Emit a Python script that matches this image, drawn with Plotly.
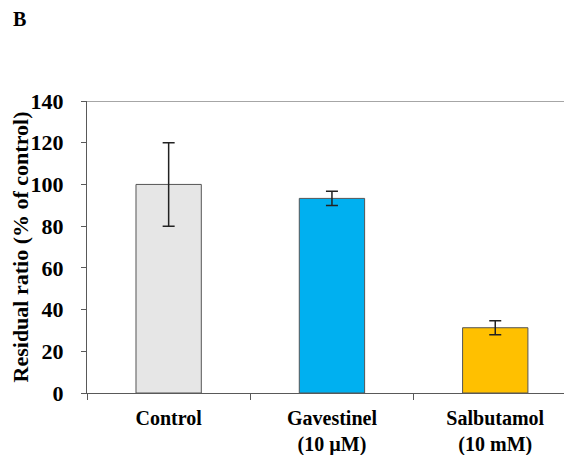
import plotly.graph_objects as go

categories = ["Control", "Gavestinel<br>(10 µM)", "Salbutamol<br>(10 mM)"]
values = [100, 93.3, 31.3]
errors = [20, 3.4, 3.4]
colors = ["#E6E6E6", "#00B0F0", "#FFC000"]
y_ticks = [0, 20, 40, 60, 80, 100, 120, 140]

FONT = "Liberation Serif"

fig = go.Figure()
fig.add_trace(go.Bar(
    x=categories, y=values,
    marker=dict(color=colors, line=dict(color="#555555", width=1)),
    width=0.4,
    error_y=dict(type="data", array=errors, visible=True, color="#222222", thickness=1.5, width=6),
))

fig.add_shape(type="line", xref="paper", yref="y", x0=0, x1=1, y0=140, y1=140,
              line=dict(color="#A6A6A6", width=2), layer="below")

# page body has an 8px margin, so the figure is offset by 8px in the window
fig.update_layout(
    template="none",
    width=564, height=447,
    margin=dict(l=79, r=0, t=93, b=62, pad=0),
    plot_bgcolor="white", paper_bgcolor="white",
    showlegend=False,
    font=dict(family=FONT, color="black"),
    annotations=[dict(text="<b>B</b>", xref="paper", yref="paper", x=-0.157, y=1.325,
                      xanchor="left", yanchor="top", showarrow=False,
                      font=dict(family=FONT, size=20, color="black"))],
)
fig.update_xaxes(
    range=[-0.5, 2.47], automargin=False,
    showline=True, linecolor="#595959", linewidth=1.2,
    ticks="outside", tickson="boundaries", ticklen=6, tickcolor="#595959", tickwidth=1,
    tickfont=dict(family=FONT, size=20, color="black", weight="bold"),
    ticklabelstandoff=7,
    showgrid=False, zeroline=False,
)
fig.update_yaxes(
    range=[0, 140], tickvals=y_ticks, automargin=False,
    showline=True, linecolor="#595959", linewidth=1.2,
    ticks="outside", ticklen=5, tickcolor="#595959", tickwidth=1,
    tickfont=dict(family=FONT, size=22, color="black", weight="bold"),
    ticklabelstandoff=13,
    showgrid=False, zeroline=False,
    title=dict(text="<b>Residual ratio (% of control)</b>", font=dict(family=FONT, size=22, color="black"), standoff=10),
)

fig.write_html("out.html")
